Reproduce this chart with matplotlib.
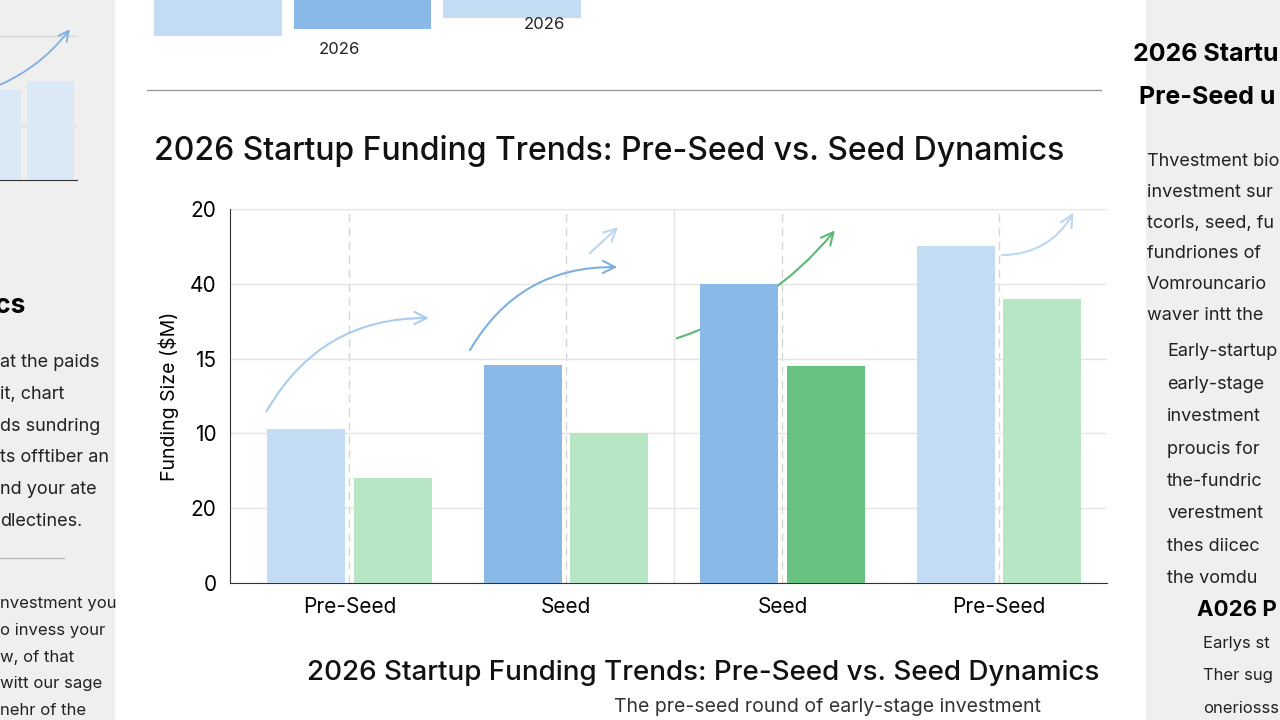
import matplotlib.pyplot as plt
import matplotlib.patches as patches
import numpy as np

plt.rcParams['font.family'] = ['Inter', 'DejaVu Sans']

# data
groups = ['Pre-Seed', 'Seed', 'Seed', 'Pre-Seed']
blue_vals = [10.3, 14.6, 20.0, 22.5]
green_vals = [7.0, 10.0, 14.5, 19.0]
blue_colors = ['#c3dcf3', '#8ab9e7', '#8ab9e7', '#c3dcf3']
green_colors = ['#b6e6c4', '#b6e6c4', '#68c27f', '#b6e6c4']
ytick_vals = [0, 5, 10, 15, 20, 25]
ytick_labels = ['0', '20', '10', '15', '40', '20']

# fragments of the neighbouring charts on the page
top_frag_vals = [1.0, 0.8, 0.5]
top_frag_colors = ['#c3dcf3', '#8ab9e7', '#c3dcf3']
left_frag_vals = [0.5, 0.55]

fig = plt.figure(figsize=(12.8, 7.2), dpi=100)
fig.patch.set_facecolor('#efefef')

# paper card behind the chart
card = patches.Rectangle((0.09, 0.0), 0.805, 1.0, transform=fig.transFigure,
                         facecolor='white', edgecolor='none', zorder=-10)
fig.patches.append(card)
fig.add_artist(plt.Line2D([0.115, 0.86], [0.875, 0.875], color='#9a9a9a', lw=1))

# previous chart, top strip
top = fig.add_axes([0.12, 0.95, 0.35, 0.05])
top.bar(np.arange(3), top_frag_vals, width=0.92, color=top_frag_colors, align='center')
top.set_xlim(-0.4, 2.6)
top.set_ylim(1, 0)
top.axis('off')
fig.text(0.265, 0.925, '2026', fontsize=12, ha='center', color='#222')
fig.text(0.425, 0.96, '2026', fontsize=12, ha='center', color='#222')

# left page chart fragment
lax = fig.add_axes([-0.01, 0.75, 0.07, 0.25])
lax.bar([0, 1], left_frag_vals, width=0.9, color='#dbe8f6', zorder=2)
lax.set_xlim(-0.2, 1.5)
lax.set_ylim(0, 1)
lax.set_yticks([0.3, 0.8])
lax.grid(True, axis='y', color='#d8d8d8', lw=1)
lax.tick_params(length=0, labelleft=False, labelbottom=False)
for s in ['top', 'left', 'right']:
    lax.spines[s].set_visible(False)
lax.spines['bottom'].set_color('#333')
lax.set_facecolor('none')
lax.annotate('', xy=(1.4, 0.85), xytext=(-0.2, 0.5),
             arrowprops=dict(arrowstyle='->', color='#7fb0e0', lw=1.3,
                             connectionstyle='arc3,rad=0.15', mutation_scale=18))

fig.text(0.12, 0.79, '2026 Startup Funding Trends: Pre-Seed vs. Seed Dynamics',
         fontsize=23, fontweight='medium', color='#111', ha='left', va='center')

ax = fig.add_axes([0.18, 0.19, 0.685, 0.52])
x = np.arange(len(groups))
w = 0.36
ax.bar(x - w / 2 - 0.02, blue_vals, w, color=blue_colors, zorder=3)
ax.bar(x + w / 2 + 0.02, green_vals, w, color=green_colors, zorder=3)

ax.set_ylim(0, 25)
ax.set_xlim(-0.55, 3.5)
ax.set_yticks(ytick_vals)
ax.set_yticklabels(ytick_labels, fontsize=15)
ax.set_xticks(x)
ax.set_xticklabels(groups, fontsize=15)
ax.tick_params(length=0, pad=10)
ax.set_ylabel('Funding Size ($M)', fontsize=14, labelpad=8)
ax.grid(True, axis='y', color='#e4e4e4', lw=1, zorder=0)
for xi in x:
    ax.axvline(xi, color='#d6d6d6', lw=1, ls=(0, (6, 4)), zorder=1)
ax.axvline(1.5, color='#e4e4e4', lw=1, zorder=1)
for s in ['top', 'right']:
    ax.spines[s].set_visible(False)
ax.spines['left'].set_color('#333')
ax.spines['bottom'].set_color('#333')

# trend arrows above the bars: (x0, dy0, x1, dy1, bar index, colour, curve, z)
arrow_specs = [
    (-0.39, 1.0, 0.38, 7.4, 0, '#a9cdee', 'arc3,rad=-0.3', 4),
    (0.55, 0.8, 1.25, 6.5, 1, '#7fb0e0', 'arc3,rad=-0.3', 4),
    (1.1, 7.3, 1.25, 9.3, 1, '#bcd7f1', 'arc3,rad=0', 4),
    (1.5, -3.7, 2.25, 3.7, 2, '#5cb873', 'arc3,rad=0.15', 2),
    (3.0, -0.6, 3.35, 2.4, 3, '#bcd7f1', 'arc3,rad=0.3', 2),
]
for x0, dy0, x1, dy1, bi, c, cs, z in arrow_specs:
    ax.annotate('', xy=(x1, blue_vals[bi] + dy1), xytext=(x0, blue_vals[bi] + dy0),
                annotation_clip=False,
                arrowprops=dict(arrowstyle='->', color=c, lw=1.5,
                                connectionstyle=cs, mutation_scale=22), zorder=z)

# lower part of the page
fig.text(0.24, 0.065, '2026 Startup Funding Trends: Pre-Seed vs. Seed Dynamics',
         fontsize=20, fontweight='medium', color='#111', ha='left', va='center')
fig.text(0.48, 0.005, 'The pre-seed round of early-stage investment',
         fontsize=14, color='#333', ha='left', va='bottom')

# neighbouring pages, cut off at the edges
fig.text(0.02, 0.565, 'Dynamics', fontsize=19, fontweight='bold', ha='right')
left_lines = ['at the paids', 'it, chart', 'ds sundring', 'ts offtiber an',
              'nd your ate', 'dlectines.']
for i, t in enumerate(left_lines):
    fig.text(0.0, 0.49 - i * 0.044, t, fontsize=13, color='#222')
fig.add_artist(plt.Line2D([0.0, 0.05], [0.225, 0.225], color='#bbb', lw=1))
left_lines2 = ['nvestment you', 'o invess your', 'w, of that', 'witt our sage',
               'nehr of the']
for i, t in enumerate(left_lines2):
    fig.text(0.0, 0.155 - i * 0.037, t, fontsize=12, color='#222')

fig.text(0.885, 0.915, '2026 Startup', fontsize=18, fontweight='bold', ha='left')
fig.text(0.89, 0.855, 'Pre-Seed u', fontsize=18, fontweight='bold', ha='left')
right_lines = ['Thvestment bio', 'investment sur', 'tcorls, seed, fu',
               'fundriones of', 'Vomrouncario', 'waver intt the']
for i, t in enumerate(right_lines):
    fig.text(0.896, 0.77 - i * 0.043, t, fontsize=13, color='#222')
right_lines2 = ['Early-startup', 'early-stage', 'investment', 'proucis for',
                'the-fundric', 'verestment', 'thes diicec', 'the vomdu']
for i, t in enumerate(right_lines2):
    fig.text(0.912, 0.505 - i * 0.045, t, fontsize=13, color='#222')
fig.text(0.935, 0.145, 'A026 P', fontsize=16, fontweight='bold', ha='left')
for i, t in enumerate(['Earlys st', 'Ther sug', 'oneriosss']):
    fig.text(0.94, 0.1 - i * 0.045, t, fontsize=12, color='#222')

fig.savefig('out.png', dpi=100, facecolor=fig.get_facecolor())
